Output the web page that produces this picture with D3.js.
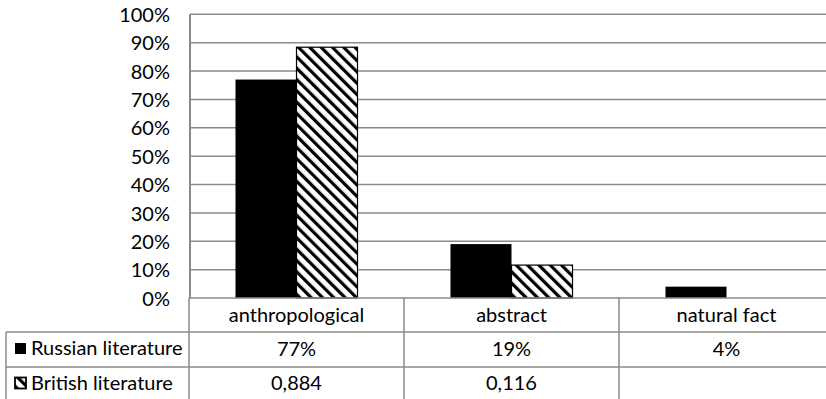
<!DOCTYPE html>
<html>
<head>
<meta charset="utf-8">
<script src="https://cdn.jsdelivr.net/npm/d3@7"></script>
<style>
  html, body { margin: 0; padding: 0; background: #fff; }
  svg { display: block; }
  text { font-family: Lato, "Liberation Sans", Arial, sans-serif; font-size: 20px; fill: #000; }
</style>
</head>
<body>
<svg id="chart" width="826" height="399"></svg>
<script>
// Categories and series values (shares of the total)
const categories = ["anthropological", "abstract", "natural fact"];
const seriesNames = ["Russian literature", "British literature"];
const russianValues = [0.77, 0.19, 0.04];
const britishValues = [0.884, 0.116, null];
const yTicks = [0, 0.1, 0.2, 0.3, 0.4, 0.5, 0.6, 0.7, 0.8, 0.9, 1.0];

const W = 826, H = 399;
const plotLeft = 189, plotRight = 834, plotTop = 14.3, plotBottom = 298;
const tableLeft = 6;
const rowLines = [298, 332, 367];   // top of header, data row 1, data row 2
const rowBottom = 402;
const gridColor = "#8a8a8a";

const svg = d3.select("#chart");

// Diagonal hatch for the second series
const defs = svg.append("defs");
const pat = defs.append("pattern")
  .attr("id", "hatch")
  .attr("patternUnits", "userSpaceOnUse")
  .attr("width", 8).attr("height", 8)
  .attr("patternTransform", "rotate(-45)");
pat.append("rect").attr("width", 8).attr("height", 8).attr("fill", "#fff");
pat.append("rect").attr("x", 0).attr("width", 3.2).attr("height", 8).attr("fill", "#000");

const x = d3.scaleBand().domain(categories).range([plotLeft, plotRight]).paddingInner(0).paddingOuter(0);
const xSeries = d3.scaleBand().domain(seriesNames).range([0, x.bandwidth()]).paddingInner(0).paddingOuter(0.762);
const y = d3.scaleLinear().domain([0, 1]).range([plotBottom, plotTop]);

// Horizontal gridlines
svg.append("g").selectAll("line")
  .data(yTicks.filter(d => d > 0))
  .join("line")
  .attr("x1", plotLeft + 1).attr("x2", W)
  .attr("y1", d => y(d)).attr("y2", d => y(d))
  .attr("stroke", gridColor).attr("stroke-width", 1.5);

// Y axis with percent labels
const yAxis = d3.axisLeft(y).tickValues(yTicks).tickFormat(d3.format(".0%")).tickSize(0).tickPadding(20);
const gy = svg.append("g").attr("transform", `translate(${plotLeft + 1},0)`).call(yAxis);
gy.select(".domain").remove();
gy.selectAll("text")
  .attr("font-family", null).attr("font-size", null)
  .attr("dy", "0.36em");
svg.append("line")
  .attr("x1", plotLeft + 1).attr("x2", plotLeft + 1)
  .attr("y1", plotTop).attr("y2", plotBottom)
  .attr("stroke", gridColor).attr("stroke-width", 2);

// Bars
const seriesData = [
  { name: seriesNames[0], values: russianValues, fill: "#000", stroke: "none" },
  { name: seriesNames[1], values: britishValues, fill: "url(#hatch)", stroke: "#000" }
];
seriesData.forEach(s => {
  svg.append("g").selectAll("rect")
    .data(categories.map((c, i) => ({ c, v: s.values[i] })).filter(d => d.v != null))
    .join("rect")
    .attr("x", d => x(d.c) + xSeries(s.name))
    .attr("width", xSeries.bandwidth())
    .attr("y", d => y(d.v))
    .attr("height", d => y(0) - y(d.v))
    .attr("fill", s.fill)
    .attr("stroke", s.stroke)
    .attr("stroke-width", 1.2);
});

// Data table under the plot
const table = svg.append("g");
// horizontal rules
table.append("line").attr("x1", plotLeft).attr("x2", W).attr("y1", rowLines[0]).attr("y2", rowLines[0])
  .attr("stroke", gridColor).attr("stroke-width", 1.5);
[rowLines[1], rowLines[2]].forEach(yy => {
  table.append("line").attr("x1", tableLeft).attr("x2", W).attr("y1", yy).attr("y2", yy)
    .attr("stroke", gridColor).attr("stroke-width", 1.5);
});
// vertical rules at category boundaries
categories.forEach(c => {
  table.append("line").attr("x1", x(c)).attr("x2", x(c)).attr("y1", rowLines[0]).attr("y2", rowBottom)
    .attr("stroke", gridColor).attr("stroke-width", 1.5);
});
table.append("line").attr("x1", tableLeft).attr("x2", tableLeft).attr("y1", rowLines[1]).attr("y2", rowBottom)
  .attr("stroke", gridColor).attr("stroke-width", 1.5);

// header: category names
table.selectAll("text.cat").data(categories).join("text")
  .attr("class", "cat")
  .attr("x", d => x(d) + x.bandwidth() / 2)
  .attr("y", 321.5)
  .attr("text-anchor", "middle")
  .text(d => d);

// value rows
const pct = d3.format(".0%");
const commaFmt = d3.formatLocale({ decimal: ",", thousands: " ", grouping: [3], currency: ["", ""] }).format(".3f");
const rowBaselines = [355.5, 390];
const rowFormats = [pct, commaFmt];
seriesData.forEach((s, r) => {
  table.selectAll("text.v" + r)
    .data(categories.map((c, i) => ({ c, v: s.values[i] })).filter(d => d.v != null))
    .join("text")
    .attr("class", "v" + r)
    .attr("x", d => x(d.c) + x.bandwidth() / 2)
    .attr("y", rowBaselines[r])
    .attr("text-anchor", "middle")
    .text(d => rowFormats[r](d.v));

  // legend key + series name
  table.append("rect")
    .attr("x", 15).attr("y", rowBaselines[r] - 12.5)
    .attr("width", 11).attr("height", 11)
    .attr("fill", s.fill)
    .attr("stroke", "#000").attr("stroke-width", r === 1 ? 1.8 : 0);
  table.append("text")
    .attr("x", 31).attr("y", rowBaselines[r] - 0.5)
    .text(s.name);
});
</script>
</body>
</html>
